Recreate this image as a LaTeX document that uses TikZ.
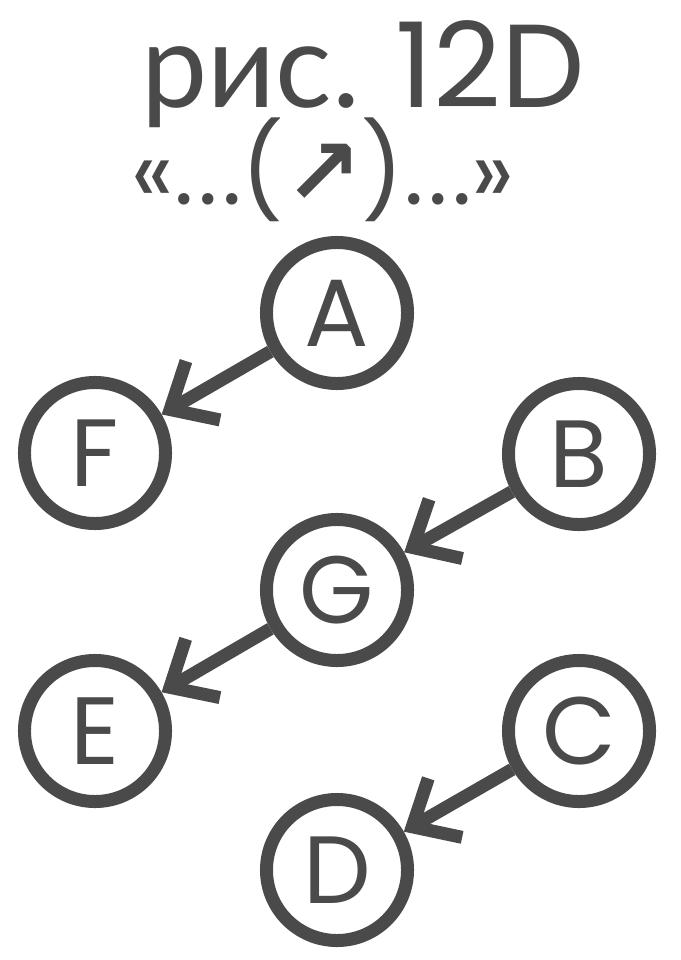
\documentclass[tikz,border=0pt]{standalone}
\usepackage{fontspec}
\setmainfont{Poppins}
\newfontfamily\cyrfont{Lato}
\newfontfamily\dvsfont{DejaVu Sans}
\usetikzlibrary{arrows.meta}
\definecolor{ink}{HTML}{4A4A4A}
\tikzstyle{every picture}=[x=0.025cm,y=-0.025cm]
\tikzstyle{vertex}=[circle,draw=ink,text=ink,line width=0.325cm,inner sep=0pt,
  outer sep=0.1625cm,minimum size=3.525cm,font=\fontsize{68}{70}\selectfont]
\tikzstyle{link}=[draw=ink,line width=0.325cm,
  -{Straight Barb[length=0.95cm,width=1.7cm]}]

\begin{document}
\begin{tikzpicture}
    \useasboundingbox (0,0) rectangle (680,960);
    % Title
    \node[text=ink,anchor=base,font=\fontsize{84}{86}\selectfont] (title) at (363,107)
        {{\cyrfont рис.}\hspace{0.3em}12D};
    \node[text=ink,anchor=base,font=\fontsize{66}{68}\selectfont] (sub) at (323,204)
        {«.\hspace{0.05em}.\hspace{0.05em}.({\dvsfont\bfseries ↗})%
         .\hspace{0.05em}.\hspace{0.05em}.»};

    % Vertices
    \node[vertex] (A) at (337,313) {A};
    \node[vertex] (F) at (95,453) {F};
    \node[vertex] (B) at (579,454) {B};
    \node[vertex] (G) at (337,590) {G};
    \node[vertex] (E) at (95,731) {E};
    \node[vertex] (C) at (579,731) {C};
    \node[vertex] (D) at (337,870) {D};

    % Arcs
    \draw[link] (A) -- (F);
    \draw[link] (B) -- (G);
    \draw[link] (G) -- (E);
    \draw[link] (C) -- (D);
\end{tikzpicture}
\end{document}
